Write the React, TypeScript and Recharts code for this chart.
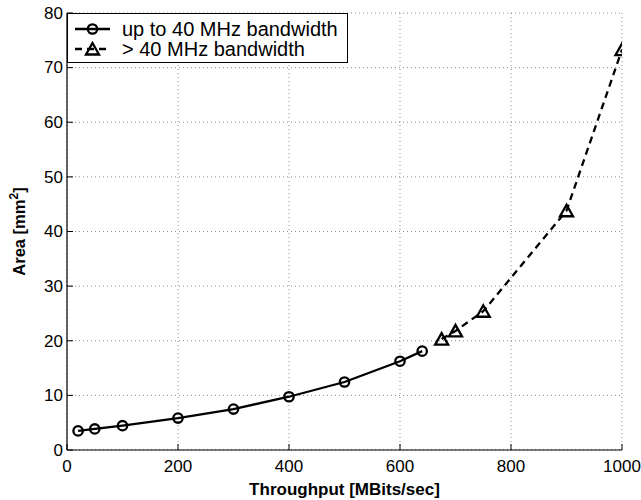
import React from 'react';
import { LineChart, Line, XAxis, YAxis, CartesianGrid, Legend } from 'recharts';

const throughputLow = [20, 50, 100, 200, 300, 400, 500, 600, 640];
const areaLow = [3.5, 3.85, 4.45, 5.85, 7.5, 9.75, 12.45, 16.25, 18.1];
const throughputHigh = [675, 700, 750, 900, 1000];
const areaHigh = [20.3, 21.8, 25.4, 43.8, 73.3];
const xTicks = [0, 200, 400, 600, 800, 1000];
const yTicks = [0, 10, 20, 30, 40, 50, 60, 70, 80];
const seriesNames = ['up to 40 MHz bandwidth', '> 40 MHz bandwidth'];

const lowData = throughputLow.map((x, i) => ({ x, y: areaLow[i] }));
const highData = throughputHigh.map((x, i) => ({ x, y: areaHigh[i] }));

const FONT = '"Liberation Sans", Arial, Helvetica, sans-serif';
const TL = 6;
const SW = 2.3;

const CircleDot = (props: any) => {
  const { cx, cy, index } = props;
  if (cx == null || cy == null) return <g key={`c-${index}`} />;
  return <circle key={`c-${index}`} cx={cx} cy={cy} r={4.7} fill="none" stroke="#000" strokeWidth={SW} />;
};

const TriDot = (props: any) => {
  const { cx, cy, index } = props;
  if (cx == null || cy == null) return <g key={`t-${index}`} />;
  const d = `M${cx},${cy - 6} L${cx - 6.5},${cy + 5.5} L${cx + 6.5},${cy + 5.5} Z`;
  return <path key={`t-${index}`} d={d} fill="none" stroke="#000" strokeWidth={SW} strokeLinejoin="miter" />;
};

const BottomTick = (props: any) => {
  const { x, y, payload } = props;
  return (
    <g>
      <line x1={x} x2={x} y1={y} y2={y - TL} stroke="#000" strokeWidth={1} />
      <text x={x} y={y + 22} textAnchor="middle" fontFamily={FONT} fontSize={17} fill="#000">
        {payload.value}
      </text>
    </g>
  );
};

const TopTick = (props: any) => {
  const { x, y } = props;
  return <line x1={x} x2={x} y1={y} y2={y + TL} stroke="#000" strokeWidth={1} />;
};

const LeftTick = (props: any) => {
  const { x, y, payload } = props;
  return (
    <g>
      <line x1={x} x2={x + TL} y1={y} y2={y} stroke="#000" strokeWidth={1} />
      <text x={x - 4} y={y} dy={5.8} textAnchor="end" fontFamily={FONT} fontSize={17} fill="#000">
        {payload.value}
      </text>
    </g>
  );
};

const RightTick = (props: any) => {
  const { x, y } = props;
  return <line x1={x} x2={x - TL} y1={y} y2={y} stroke="#000" strokeWidth={1} />;
};

const XLabel = (props: any) => {
  const vb = props.viewBox || {};
  return (
    <text
      x={vb.x + vb.width / 2}
      y={vb.y + 45}
      textAnchor="middle"
      fontFamily={FONT}
      fontWeight="bold"
      fontSize={17}
      fill="#000"
    >
      Throughput [MBits/sec]
    </text>
  );
};

const YLabel = (props: any) => {
  const vb = props.viewBox || {};
  const cx = vb.x + 25;
  const cy = vb.y + vb.height / 2;
  return (
    <text
      x={cx}
      y={cy}
      transform={`rotate(-90 ${cx} ${cy})`}
      textAnchor="middle"
      fontFamily={FONT}
      fontWeight="bold"
      fontSize={16.5}
      fill="#000"
    >
      Area [mm
      <tspan fontSize={12} dy={-7}>2</tspan>
      <tspan dy={7}>]</tspan>
    </text>
  );
};

const LegendBox = () => {
  const w = 280;
  const h = 49;
  return (
    <svg width={w + 1} height={h + 1} style={{ display: 'block' }}>
      <rect x={0.5} y={0.5} width={w} height={h} fill="#fff" stroke="#000" strokeWidth={1} />
      <line x1={8} x2={43} y1={16} y2={16} stroke="#000" strokeWidth={SW} />
      <circle cx={25.5} cy={16} r={4.7} fill="none" stroke="#000" strokeWidth={SW} />
      <text x={55} y={23} fontFamily={FONT} fontSize={20} fill="#000">{seriesNames[0]}</text>
      <line x1={8} x2={43} y1={36} y2={36} stroke="#000" strokeWidth={SW} strokeDasharray="7 5" />
      <path d={`M25.5,30 L19,41.5 L32,41.5 Z`} fill="none" stroke="#000" strokeWidth={SW} />
      <text x={55} y={43} fontFamily={FONT} fontSize={20} fill="#000">{seriesNames[1]}</text>
    </svg>
  );
};

export default function App() {
  return (
    <div style={{ position: 'absolute', left: 0, top: 0, width: 641, height: 500, background: '#fff' }}>
      <LineChart width={641} height={500} margin={{ top: 13, right: 19, left: 0, bottom: 0 }}>
        <CartesianGrid stroke="#8a8a8a" strokeDasharray="1 3" strokeWidth={1} />
        <XAxis
          xAxisId={0}
          type="number"
          dataKey="x"
          domain={[0, 1000]}
          ticks={xTicks}
          height={50}
          tickSize={0}
          tickMargin={0}
          tickLine={false}
          axisLine={{ stroke: '#000', strokeWidth: 1.2 }}
          tick={<BottomTick />}
          interval={0}
          allowDataOverflow
          label={<XLabel />}
        />
        <XAxis
          xAxisId="top"
          orientation="top"
          type="number"
          dataKey="x"
          domain={[0, 1000]}
          ticks={xTicks}
          height={0}
          tickSize={0}
          tickMargin={0}
          tickLine={false}
          axisLine={{ stroke: '#000', strokeWidth: 1.2 }}
          tick={<TopTick />}
          interval={0}
          allowDataOverflow
        />
        <YAxis
          yAxisId={0}
          type="number"
          domain={[0, 80]}
          ticks={yTicks}
          width={67}
          tickSize={0}
          tickMargin={0}
          tickLine={false}
          axisLine={{ stroke: '#000', strokeWidth: 1.2 }}
          tick={<LeftTick />}
          interval={0}
          allowDataOverflow
          label={<YLabel />}
        />
        <YAxis
          yAxisId="right"
          orientation="right"
          type="number"
          domain={[0, 80]}
          ticks={yTicks}
          width={0}
          tickSize={0}
          tickMargin={0}
          tickLine={false}
          axisLine={{ stroke: '#000', strokeWidth: 1.2 }}
          tick={<RightTick />}
          interval={0}
          allowDataOverflow
        />
        <Legend
          layout="vertical"
          align="center"
          verticalAlign="middle"
          wrapperStyle={{ position: 'absolute', left: 67, top: 13, width: 281, height: 50 }}
          content={() => <LegendBox />}
        />
        <Line
          data={lowData}
          xAxisId={0}
          yAxisId={0}
          dataKey="y"
          name={seriesNames[0]}
          type="linear"
          stroke="#000"
          strokeWidth={SW}
          dot={CircleDot}
          activeDot={false}
          isAnimationActive={false}
        />
        <Line
          data={highData}
          xAxisId={0}
          yAxisId={0}
          dataKey="y"
          name={seriesNames[1]}
          type="linear"
          stroke="#000"
          strokeWidth={SW}
          strokeDasharray="7 5"
          dot={TriDot}
          activeDot={false}
          isAnimationActive={false}
        />
      </LineChart>
    </div>
  );
}
